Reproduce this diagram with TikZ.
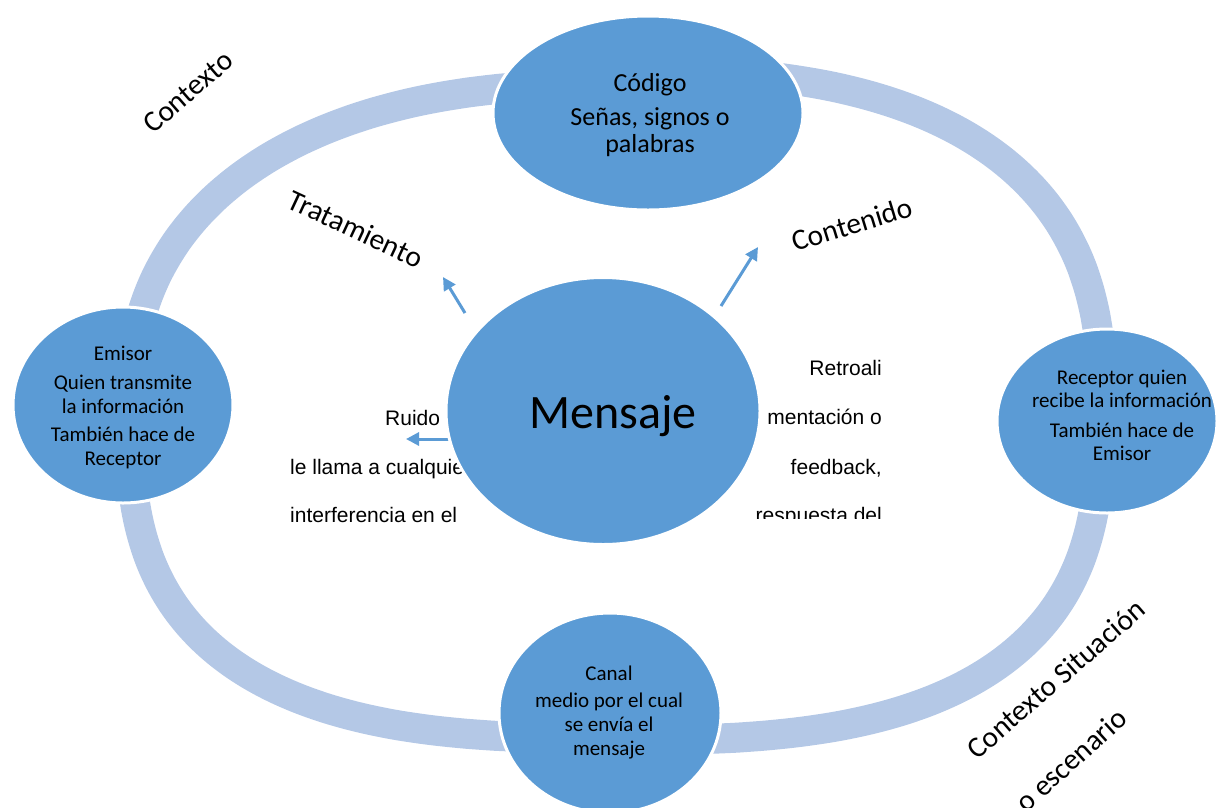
\documentclass[tikz,border=0pt]{standalone}
\usepackage{fontspec}
\setmainfont{Carlito}
\newfontfamily\arialf{Liberation Sans}
\usetikzlibrary{shapes.geometric,arrows.meta}
\definecolor{bub}{HTML}{5B9BD5}
\definecolor{ringc}{HTML}{B4C8E6}
\begin{document}
\begin{tikzpicture}[x=1pt,y=-1pt,
  bubble/.style={ellipse, fill=bub, draw=white, line width=3pt, inner sep=0pt},
  ctext/.style={align=center, anchor=base, inner sep=0pt, font=\fontsize{21}{24}\selectfont},
  lbl/.style={inner sep=0pt, font=\fontsize{29.5}{32}\selectfont},
  atext/.style={inner sep=0pt, font=\arialf\fontsize{21}{24}\selectfont},
  arr/.style={draw=bub, line width=3pt, -{Triangle[length=13pt,width=13pt]}},
  ringline/.style={draw=ringc, line width=30pt}]
\useasboundingbox (0,0) rectangle (1217,807);
% ring: four superelliptic quarters (joins hidden under the bubbles)
\draw[ringline] plot[domain=0.5:89.5, samples=60, smooth, variable=\t]
  ({615-485*pow(cos(\t),2/2.35)}, {410-326*pow(sin(\t),2/2.35)});
\draw[ringline] plot[domain=0.5:89.5, samples=60, smooth, variable=\t]
  ({615+487*pow(cos(\t),2/2.6)}, {410-340*pow(sin(\t),2/2.6)});
\draw[ringline] plot[domain=0.5:89.5, samples=60, smooth, variable=\t]
  ({615+485*pow(cos(\t),2/2.8)}, {410+330*pow(sin(\t),2/2.8)});
\draw[ringline] plot[domain=0.5:89.5, samples=60, smooth, variable=\t]
  ({615-485*pow(cos(\t),2/2.8)}, {410+328*pow(sin(\t),2/2.8)});
% outer bubbles
\node[bubble, minimum width=310pt, minimum height=194pt] (codigo) at (648,113) {};
\node[bubble, minimum width=220pt, minimum height=196pt] (emisor) at (123,405) {};
\node[bubble, minimum width=220pt, minimum height=184pt] (receptor) at (1107,421) {};
\node[bubble, minimum width=222pt, minimum height=200pt] (canal) at (610,713) {};
% texts behind Mensaje
\node[atext, anchor=base west] (ruido1) at (385,425) {Ruido};
\node[atext, anchor=base west] (ruido2) at (290,474) {le llama a cualquier};
\node[atext, anchor=base west] (ruido3) at (290,522) {interferencia en el};
\begin{scope}
  \clip (700,300) rectangle (1000,518);
  \node[atext, anchor=base east] (retro1) at (882,375) {Retroali};
  \node[atext, anchor=base east] (retro2) at (882,424) {mentación o};
  \node[atext, anchor=base east] (retro3) at (882,474) {feedback,};
  \node[atext, anchor=base east] (retro4) at (882,522.5) {respuesta del};
\end{scope}
% arrows
\coordinate (tratTail) at (465,313);
\coordinate (tratTip) at (443,277);
\coordinate (contTail) at (721,306);
\coordinate (contTip) at (758,247);
\coordinate (ruidoTail) at (452,439);
\coordinate (ruidoTip) at (406,439);
\draw[arr] (tratTail) -- (tratTip);
\draw[arr] (contTail) -- (contTip);
\draw[arr] (ruidoTail) -- (ruidoTip);
% Mensaje
\node[bubble, minimum width=314pt, minimum height=267pt] (mensaje) at (603,411) {};
\node[anchor=base, inner sep=0pt, font=\fontsize{48}{52}\selectfont] (mensajeT) at (613,428) {Mensaje};
% bubble texts (anchor base = baseline of last line)
\node[ctext, font=\fontsize{26}{27}\selectfont] (codigoT) at (650,152) {Código\\[7pt]Señas, signos o\\palabras};
\node[ctext] (emisorT) at (123,465) {Emisor\\[5pt]Quien transmite\\la información\\[4pt]También hace de\\Receptor};
\node[ctext, font=\fontsize{21}{23}\selectfont] (receptorT) at (1122,460) {Receptor quien\\recibe la información\\[7pt]También hace de\\Emisor};
\node[ctext] (canalT) at (609,755) {Canal\\[3pt]medio por el cual\\se envía el\\mensaje};
% rotated labels
\node[lbl, rotate=41] (contexto) at (188,92) {Contexto};
\node[lbl, rotate=-25] (tratamiento) at (356,229) {Tratamiento};
\node[lbl, rotate=17] (contenido) at (852,224) {Contenido};
\node[lbl, rotate=41] (situacion) at (1056,679) {Contexto Situación};
\node[lbl, rotate=42] (escenario) at (1071,760) {o escenario};
\end{tikzpicture}
\end{document}
